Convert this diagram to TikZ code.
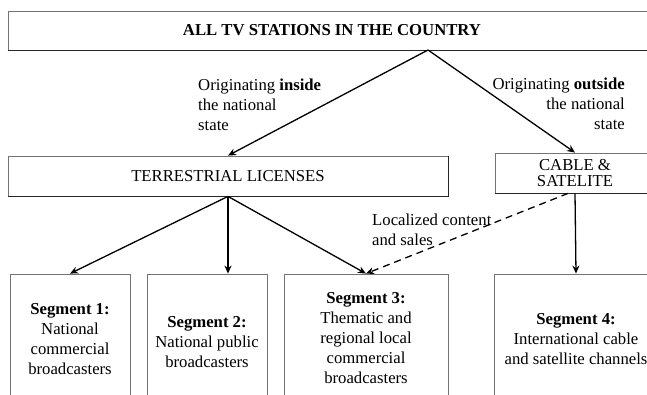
\documentclass[tikz,border=0pt]{standalone}
\usepackage{fontspec}
\setmainfont{Liberation Serif}
\usetikzlibrary{arrows.meta}
\begin{document}
\begin{tikzpicture}[x=1pt,y=-1pt,
  box/.style={draw=black!55, line width=0.8pt, rectangle, inner sep=0pt, align=center,
    font=\fontsize{16.7}{20}\selectfont},
  lbl/.style={inner sep=0pt, font=\fontsize{16.7}{20}\selectfont},
  arr/.style={line width=1.3pt, -{Stealth[length=8pt,width=7pt]}},
  shade/.style={line width=1.3pt, black!85}
]
\useasboundingbox (0,0) rectangle (647,395);
\clip (0,0) rectangle (647,395);
% boxes
\node[box, minimum width=648pt, minimum height=39pt, font=\bfseries\fontsize{16.7}{20}\selectfont] (top) at (332,30.5) {ALL TV STATIONS IN THE COUNTRY};
\node[box, minimum width=440pt, minimum height=40pt] (terr) at (228,176) {TERRESTRIAL LICENSES};
\node[box, minimum width=160pt, minimum height=40pt, font=\fontsize{16.7}{15.5}\selectfont] (cable) at (575,173) {CABLE \&\\SATELITE};
\node[box, minimum width=120pt, minimum height=130pt] (s1) at (70,339) {\textbf{Segment 1:}\\National\\commercial\\broadcasters};
\node[box, minimum width=120pt, minimum height=137pt] (s2) at (207,342.5) {\textbf{Segment 2:}\\National public\\broadcasters};
\node[box, minimum width=164pt, minimum height=128pt] (s3) at (366,338) {\textbf{Segment 3:}\\Thematic and\\regional local\\commercial\\broadcasters};
\node[box, minimum width=164pt, minimum height=130pt] (s4) at (576,339) {\textbf{Segment 4:}\\International cable\\and satellite channels};
% shadow edges
\draw[shade] (top.south west) -- (top.south east);
\draw[shade] (terr.south west) -- (terr.south east) -- (terr.north east);
\draw[shade] (cable.south west) -- (cable.south east);
% labels
\node[lbl, align=left, anchor=west] (lin) at (198,105) {Originating \textbf{inside}\\the national\\state};
\node[lbl, align=right, anchor=east] (lout) at (625,104) {Originating \textbf{outside}\\the national\\state};
\node[lbl, align=left, anchor=west] (lloc) at (372,230) {Localized content\\and sales};
% connectors
\coordinate (apex) at (428,50);
\draw[arr] (apex) -- (terr.north);
\draw[arr] (apex) -- (cable.north);
\draw[arr] (terr.south) -- (s1.north);
\draw[arr] (terr.south) -- (terr.south |- s2.north);
\draw[arr] (terr.south) -- (s3.north);
\draw[arr] (cable.south) -- (s4.north);
\draw[arr, dashed, dash pattern=on 7pt off 5pt] ([xshift=-7pt]cable.south) -- (s3.north);
\end{tikzpicture}
\end{document}
